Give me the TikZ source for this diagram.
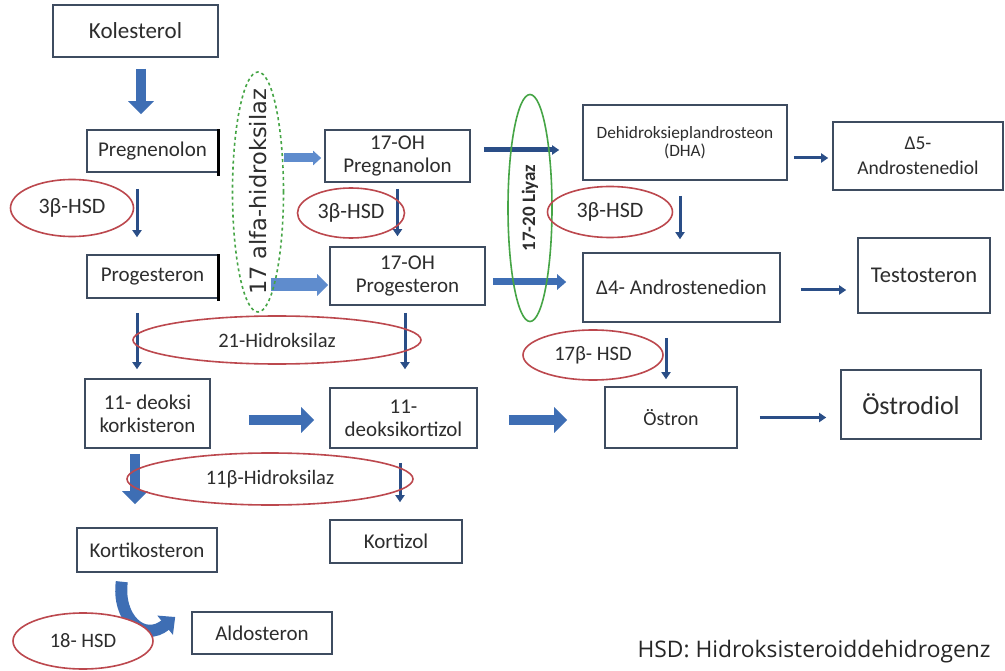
\documentclass[tikz,border=0pt]{standalone}
\usepackage{fontspec}
\setmainfont{Carlito}
\newfontfamily\legendfont{Open Sans}
\newfontfamily\alfafont{DejaVu Sans}
\usetikzlibrary{arrows.meta}
\usetikzlibrary{shapes.geometric}
\definecolor{boxline}{RGB}{62,76,96}
\definecolor{txt}{RGB}{45,45,45}
\definecolor{enzred}{RGB}{188,72,78}
\definecolor{enzgreen}{RGB}{70,165,70}
\definecolor{darkarr}{RGB}{42,78,135}
\definecolor{blockarr}{RGB}{62,110,180}
\definecolor{lightarr}{RGB}{95,140,205}

\begin{document}
\begin{tikzpicture}[x = 1pt, y = -1pt,
        box/.style = {draw = boxline, line width = 1.6pt, align = center, text = txt, inner sep = 2pt, font = \fontsize{21}{23}\selectfont},
        enz/.style = {ellipse, draw = enzred, line width = 1.6pt, inner sep = 0pt, text = txt, font = \fontsize{20.5}{23}\selectfont},
        flow/.style = {draw = darkarr, line width = 3pt, -{Triangle[width = 9pt, length = 7pt]}},
        bigflow/.style = {draw = blockarr, line width = 10pt, -{Triangle[width = 25pt, length = 13pt]}}]
    \useasboundingbox [fill = white] (0, 0) rectangle (1005, 671);

    \node [box, minimum width = 165, minimum height = 52, font = \fontsize{23}{25}\selectfont] (kol) at (135.5, 31) {Kolesterol};
    \node [box, minimum width = 131, minimum height = 42] (preg) at (152.5, 151) {Pregnenolon};
    \node [box, minimum width = 131, minimum height = 43] (prog) at (152.5, 276.5) {Progesteron};
    \node [box, minimum width = 145, minimum height = 52] (ohpreg) at (397.5, 156) {17-OH\\Pregnanolon};
    \node [box, minimum width = 155, minimum height = 58] (ohprog) at (407.5, 276) {17-OH\\Progesteron};
    \node [box, minimum width = 204, minimum height = 75, font = \fontsize{17.3}{18}\selectfont] (dha) at (685, 142.5) {Dehidroksieplandrosteon\\(DHA)};
    \node [box, minimum width = 170, minimum height = 68, font = \fontsize{19.5}{25}\selectfont] (adiol) at (918, 156) {Δ5-\\Androstenediol};
    \node [box, minimum width = 197, minimum height = 69] (adion) at (681.5, 287.5) {Δ4- Androstenedion};
    \node [box, minimum width = 132, minimum height = 75, font = \fontsize{22.5}{25}\selectfont] (testo) at (924, 275.5) {Testosteron};
    \node [box, minimum width = 125, minimum height = 69] (dkort) at (147.5, 413.5) {11- deoksi\\korkisteron};
    \node [box, minimum width = 147, minimum height = 60] (dkortizol) at (403.5, 418) {11-\\deoksikortizol};
    \node [box, minimum width = 140, minimum height = 44] (kortik) at (147, 550) {Kortikosteron};
    \node [box, minimum width = 132, minimum height = 43] (kortizol) at (396, 541.5) {Kortizol};
    \node [box, minimum width = 140, minimum height = 42] (aldo) at (262, 633) {Aldosteron};
    \node [box, minimum width = 132, minimum height = 61, font = \fontsize{20}{23}\selectfont] (ostron) at (671, 417.5) {Östron};
    \node [box, minimum width = 140, minimum height = 69, font = \fontsize{26}{28}\selectfont] (ostrodiol) at (911, 404.5) {Östrodiol};
    \draw [line width = 3pt] (preg.north east) -- ([yshift = -3pt]preg.south east);
    \draw [line width = 3pt] (prog.north east) -- ([yshift = -2pt]prog.south east);

    \draw [bigflow] [shorten < = 11pt, shorten > = 15pt] ([xshift = 5.5pt]kol.south) -- ([xshift = 5.5pt]kol.south |- preg.north);
    \draw [flow] [shorten < = 16pt, shorten > = 17pt] ([xshift = -15.5pt]preg.south) -- ([xshift = -15.5pt]preg.south |- prog.north);
    \draw [flow] [shorten < = 6pt, shorten > = 10pt] (ohpreg.south) -- (ohpreg.south |- ohprog.north);
    \draw [flow] [shorten < = 15pt, shorten > = 13pt] ([xshift = -5pt]dha.south) -- ([xshift = -5pt]dha.south |- adion.north);
    \draw [flow] [shorten < = 15pt, shorten > = 7pt] ([xshift = -15.5pt]adion.south) -- ([xshift = -15.5pt]adion.south |- ostron.north);
    \draw [flow] [shorten < = 14pt, shorten > = 9pt] ([xshift = -15.5pt]prog.south) -- ([xshift = -15.5pt]prog.south |- dkort.north);
    \draw [flow] [shorten < = 7pt, shorten > = 18pt] ([xshift = -2.5pt]ohprog.south) -- ([xshift = -2.5pt]ohprog.south |- dkortizol.north);
    \draw [bigflow] [shorten < = 5pt, shorten > = 23pt] ([xshift = -12.5pt]dkort.south) -- ([xshift = -12.5pt]dkort.south |- kortik.north);
    \draw [flow] [shorten < = 14pt, shorten > = 17pt] ([xshift = -3.5pt]dkortizol.south) -- ([xshift = -3.5pt]dkortizol.south |- kortizol.north);

    \draw [bigflow, draw = lightarr, line width = 9pt, -{Triangle[width = 14pt, length = 8pt]}] [shorten < = 65pt, shorten > = 3pt] ([yshift = -7pt]preg.east) -- ([yshift = -7pt]preg.east -| ohpreg.west);
    \draw [bigflow, draw = lightarr, line width = 13pt, -{Triangle[width = 21pt, length = 11pt]}] [shorten < = 52pt, shorten > = 1pt] ([yshift = -8.5pt]prog.east) -- ([yshift = -8.5pt]prog.east -| ohprog.west);
    \draw [flow, line width = 5pt] [shorten < = 13pt, shorten > = 23pt] ([yshift = 6pt]ohpreg.east) -- ([yshift = 6pt]ohpreg.east -| dha.west);
    \draw [flow, draw = blockarr, line width = 7pt, -{Triangle[width = 15pt, length = 9pt]}] [shorten < = 7pt, shorten > = 16pt] ([yshift = -6pt]ohprog.east) -- ([yshift = -6pt]ohprog.east -| adion.west);
    \draw [flow] [shorten < = 6pt, shorten > = 4pt] ([yshift = -15.5pt]dha.east) -- ([yshift = -15.5pt]dha.east -| adiol.west);
    \draw [flow] [shorten < = 20pt, shorten > = 11pt] ([yshift = -2.5pt]adion.east) -- ([yshift = -2.5pt]adion.east -| testo.west);
    \draw [bigflow] [shorten < = 38pt, shorten > = 15pt] ([yshift = -6.5pt]dkort.east) -- ([yshift = -6.5pt]dkort.east -| dkortizol.west);
    \draw [bigflow] [shorten < = 31pt, shorten > = 37pt] ([yshift = -2pt]dkortizol.east) -- ([yshift = -2pt]dkortizol.east -| ostron.west);
    \draw [flow] [shorten < = 22pt, shorten > = 14pt] (ostron.east) -- (ostron.east -| ostrodiol.west);
    \draw [bigflow, line width = 12pt, -{Triangle[width = 24pt, length = 13pt]}] [shorten < = 9pt] ([xshift = -24pt]kortik.south) .. controls +(-6, 45) and +(-32, 26) .. ([shift = {(-16pt, 16pt)}]aldo.west);

    \node [enz, minimum width = 123, minimum height = 57, font = \fontsize{22}{24}\selectfont] (hsda) at (72, 208) {3β-HSD};
    \node [enz, draw = enzgreen, dashed, minimum width = 51, minimum height = 240] (alfa) at (258, 192) {};
    \node [rotate = 90, text = txt, font = \alfafont\fontsize{22.5}{24}\selectfont] (alfatext) at (alfa.center) {17 alfa-hidroksilaz};
    \node [enz, minimum width = 107, minimum height = 50, font = \fontsize{22}{24}\selectfont] (hsdb) at (351, 213) {3β-HSD};
    \node [enz, draw = enzgreen, minimum width = 44, minimum height = 227] (liyaz) at (530, 208) {};
    \node [rotate = 90, text = txt, font = \bfseries\fontsize{19}{22}\selectfont] (liyaztext) at (liyaz.center) {17-20 Liyaz};
    \node [enz, minimum width = 125, minimum height = 51, font = \fontsize{22}{24}\selectfont] (hsdc) at (610, 212) {3β-HSD};
    \node [enz, minimum width = 288, minimum height = 48] (hid21) at (277, 340) {21-Hidroksilaz};
    \node [enz, minimum width = 140, minimum height = 50] (hsd17) at (593, 355) {17β- HSD};
    \node [enz, minimum width = 286, minimum height = 52] (hid11) at (270, 479) {11β-Hidroksilaz};
    \node [enz, fill = white, minimum width = 140, minimum height = 56] (hsd18) at (83, 641) {18- HSD};

    \node [text = black!85, font = \legendfont\fontsize{22.8}{26}\selectfont] (legend) at (814, 652) {HSD: Hidroksisteroiddehidrogenz};
\end{tikzpicture}
\end{document}
